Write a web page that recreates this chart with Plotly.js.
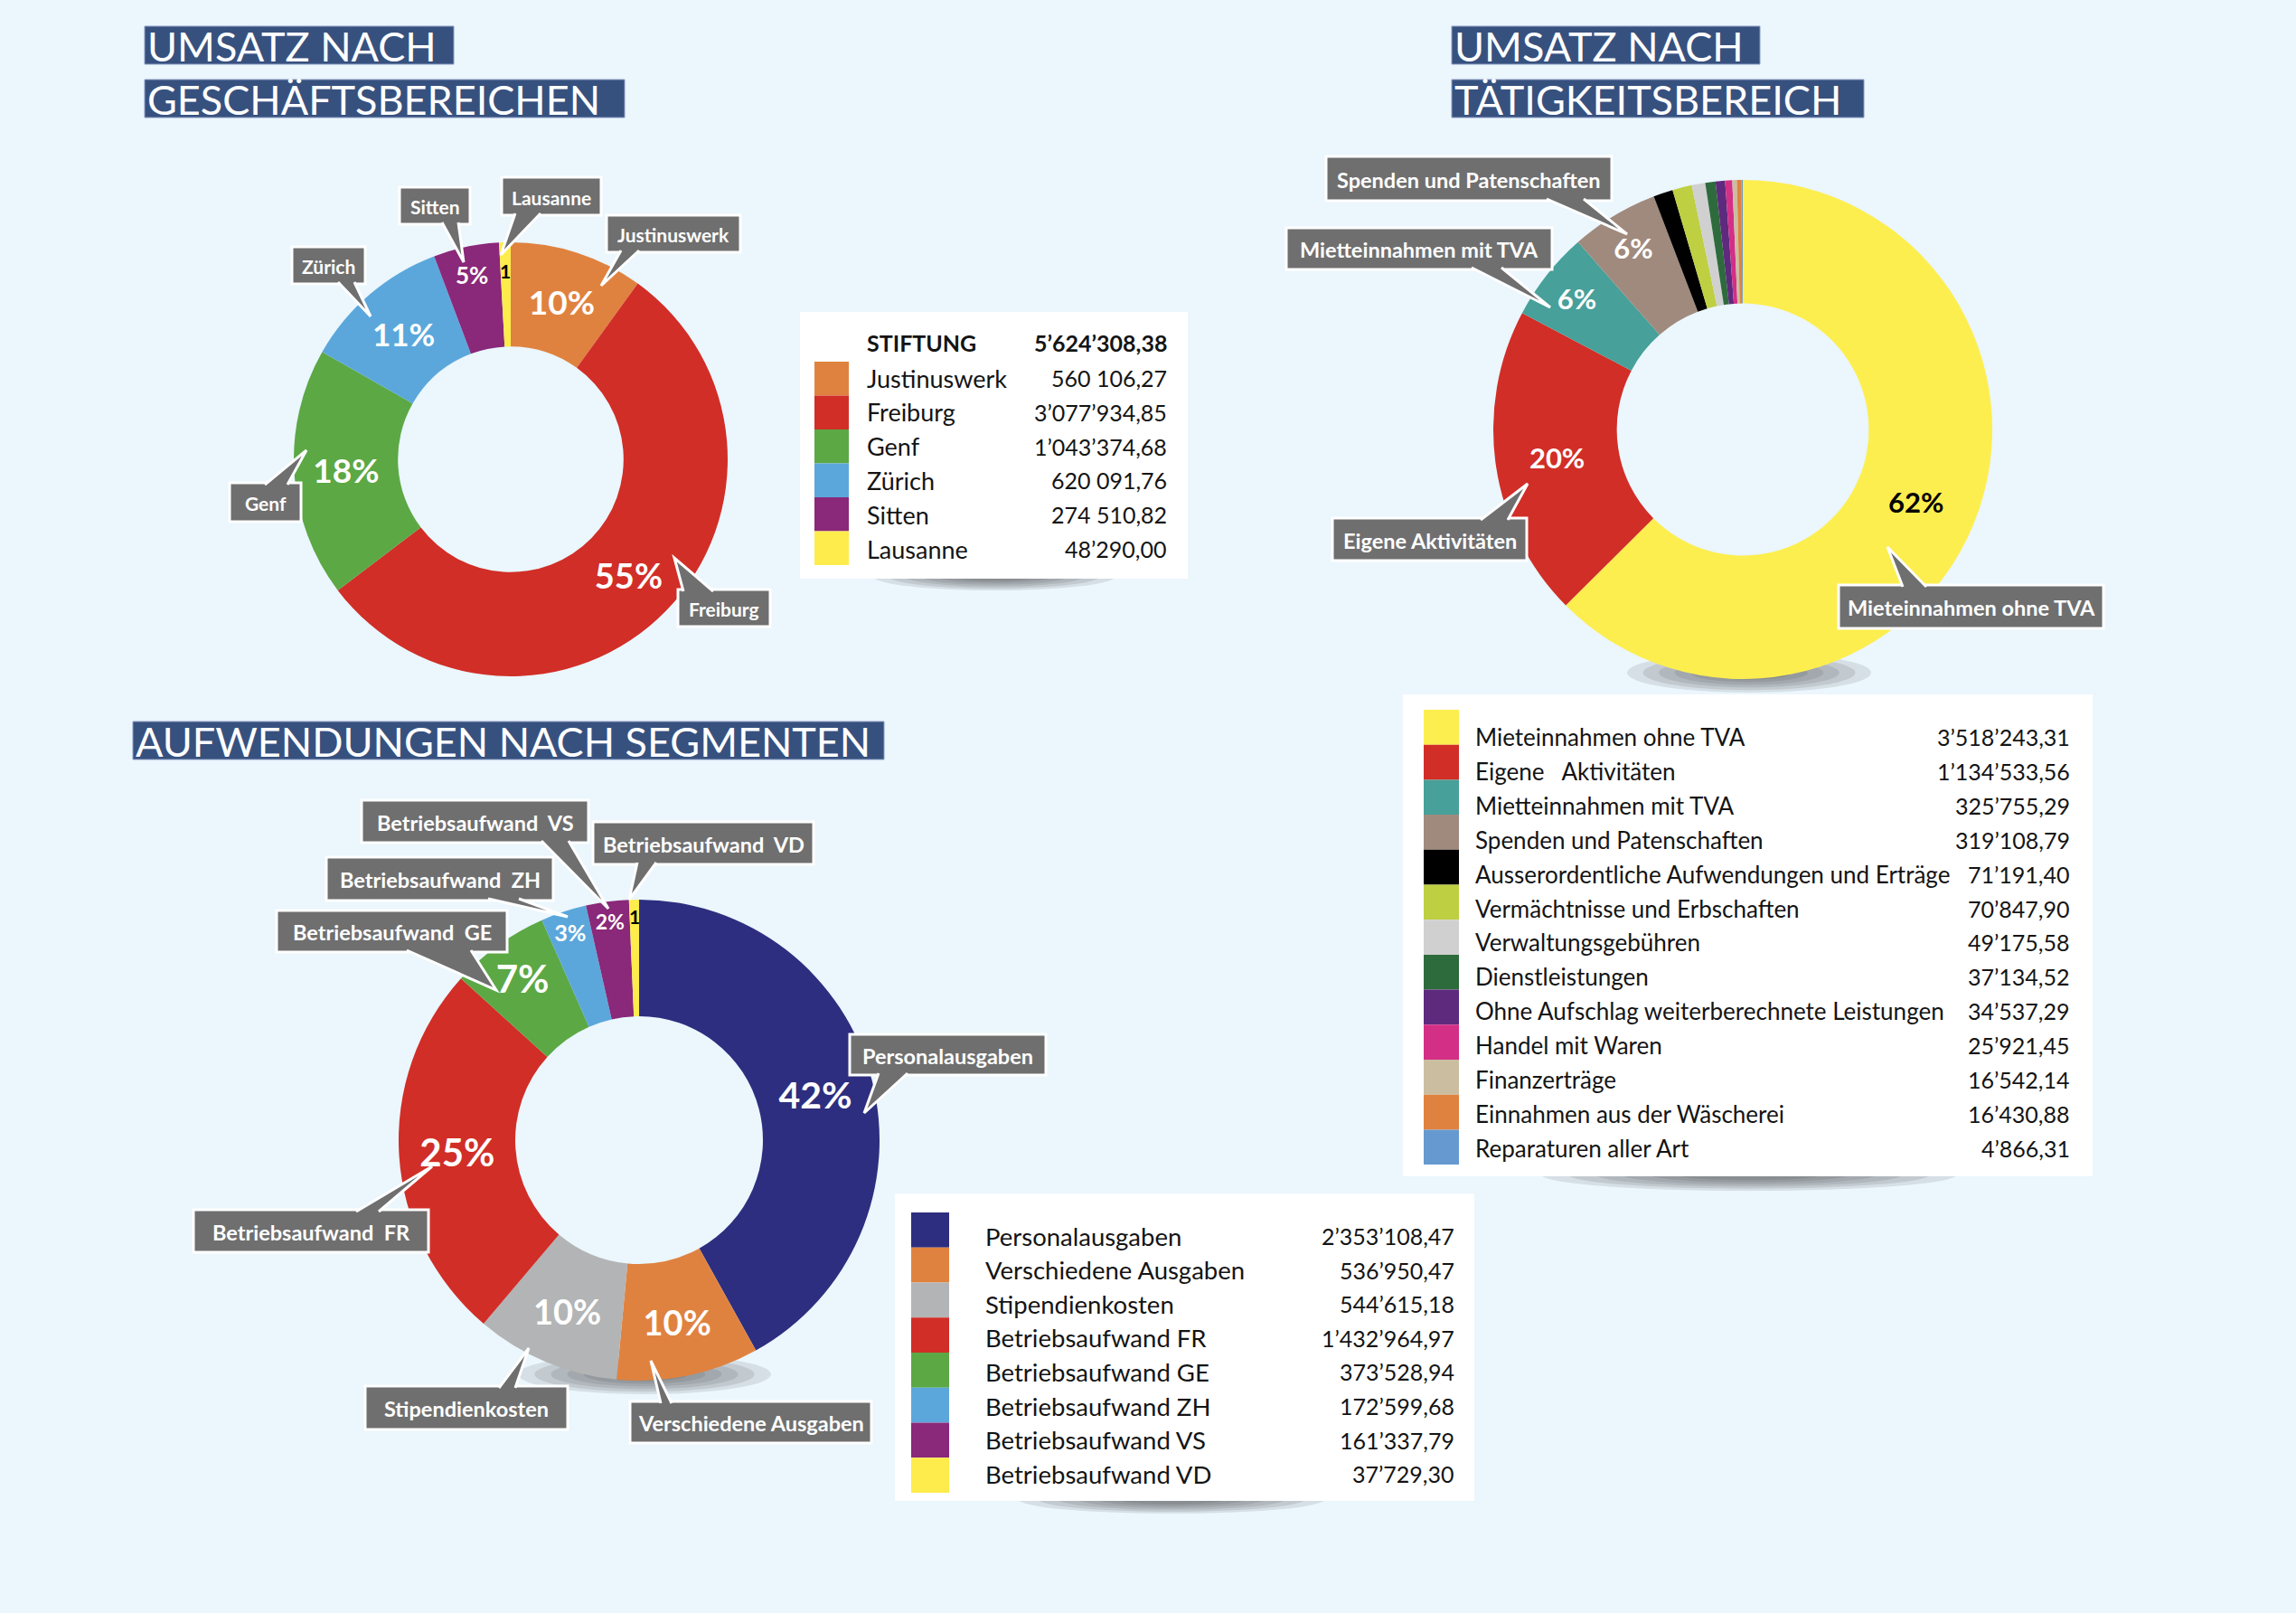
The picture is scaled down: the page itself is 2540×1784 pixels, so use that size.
<!DOCTYPE html>
<html>
<head>
<meta charset="utf-8">
<script src="https://cdn.plot.ly/plotly-3.0.1.min.js"></script>
<style>html,body{margin:0;padding:0;background:#EBF6FD;}</style>
</head>
<body>
<div id="chart" style="width:2540px;height:1784px;"></div>
<script>
// ---------------- DATA ----------------
// Umsatz nach Geschäftsbereichen
const gbLabels = ['Justinuswerk', 'Freiburg', 'Genf', 'Zürich', 'Sitten', 'Lausanne'];
const gbValues = [560106.27, 3077934.85, 1043374.68, 620091.76, 274510.82, 48290.00];
const gbValueText = ['560 106,27', '3’077’934,85', '1’043’374,68', '620 091,76', '274 510,82', '48’290,00'];
const gbPctText = ['10%', '55%', '18%', '11%', '5%', '1'];
const gbTotalLabel = 'STIFTUNG';
const gbTotalText = '5’624’308,38';

// Umsatz nach Tätigkeitsbereich
const tbLabels = ['Mieteinnahmen ohne TVA', 'Eigene\u00a0\u00a0 Aktivitäten', 'Mietteinnahmen mit TVA', 'Spenden und Patenschaften',
  'Ausserordentliche Aufwendungen und Erträge', 'Vermächtnisse und Erbschaften', 'Verwaltungsgebühren', 'Dienstleistungen',
  'Ohne Aufschlag weiterberechnete Leistungen', 'Handel mit Waren', 'Finanzerträge', 'Einnahmen aus der Wäscherei', 'Reparaturen aller Art'];
const tbValues = [3518243.31, 1134533.56, 325755.29, 319108.79, 71191.40, 70847.90, 49175.58, 37134.52, 34537.29, 25921.45, 16542.14, 16430.88, 4866.31];
const tbValueText = ['3’518’243,31', '1’134’533,56', '325’755,29', '319’108,79', '71’191,40', '70’847,90', '49’175,58',
  '37’134,52', '34’537,29', '25’921,45', '16’542,14', '16’430,88', '4’866,31'];
const tbPctText = ['62%', '20%', '6%', '6%', '', '', '', '', '', '', '', '', ''];

// Aufwendungen nach Segmenten
const sgLabels = ['Personalausgaben', 'Verschiedene Ausgaben', 'Stipendienkosten', 'Betriebsaufwand FR', 'Betriebsaufwand GE',
  'Betriebsaufwand ZH', 'Betriebsaufwand VS', 'Betriebsaufwand VD'];
const sgValues = [2353108.47, 536950.47, 544615.18, 1432964.97, 373528.94, 172599.68, 161337.79, 37729.30];
const sgValueText = ['2’353’108,47', '536’950,47', '544’615,18', '1’432’964,97', '373’528,94', '172’599,68', '161’337,79', '37’729,30'];
const sgPctText = ['42%', '10%', '10%', '25%', '7%', '3%', '2%', '1'];

// Titles
const titleGB = ['UMSATZ NACH', 'GESCHÄFTSBEREICHEN'];
const titleTB = ['UMSATZ NACH', 'TÄTIGKEITSBEREICH'];
const titleSG = ['AUFWENDUNGEN NACH SEGMENTEN'];

// ---------------- STYLE ----------------
const W = 2540, H = 1784;
const BG = '#EBF6FD';
const FONT = 'Lato, "Open Sans", sans-serif';
const TITLE_BOX = '#37517F';
const CALLOUT = '#6F6F6F';
const gbColors = ['#E0823F', '#D12E27', '#5CA845', '#5BA7DB', '#8A2879', '#FDEC4C'];
const tbColors = ['#FDEE4F', '#D12E27', '#47A099', '#A08A7D', '#000000', '#BFCF42', '#D0D0D0', '#2E6B3C', '#5E2A7E', '#D42F86', '#CBBEA0', '#E0823F', '#6699CF'];
const sgColors = ['#2D2E7F', '#E0823F', '#B3B4B5', '#D12E27', '#5CA845', '#5BA7DB', '#8A2879', '#FDEC4C'];

const shapes = [];
const annotations = [];

// slices thinner than this share get their label as an annotation (Plotly would shrink it away)
const TINY = 0.015;

function donut(labels, values, text, colors, txtColors, txtSizes, cx, cy, r, hole, tinyR) {
  const total = values.reduce(function (a, b) { return a + b; }, 0);
  let cum = 0;
  const pieText = text.map(function (t, i) {
    const share = values[i] / total;
    const mid = (cum + values[i] / 2) / total;
    cum += values[i];
    if (share < TINY && t !== '') {
      const th = mid * 2 * Math.PI;
      annotations.push({xref: 'x', yref: 'y', x: cx + tinyR * r * Math.sin(th), y: cy - tinyR * r * Math.cos(th),
        text: t, showarrow: false, xanchor: 'center', yanchor: 'middle',
        font: {family: FONT, size: 21, color: txtColors[i], weight: 'bold'}});
      return '';
    }
    return t;
  });
  return {
    type: 'pie', labels: labels, values: values, text: pieText, textinfo: 'text',
    textposition: 'inside', insidetextorientation: 'horizontal',
    sort: false, direction: 'clockwise', rotation: 0, hole: hole,
    marker: {colors: colors, line: {width: 0}},
    insidetextfont: {family: FONT, color: txtColors, size: txtSizes, weight: 'bold'},
    domain: {x: [(cx - r) / W, (cx + r) / W], y: [1 - (cy + r) / H, 1 - (cy - r) / H]},
    hoverinfo: 'none', showlegend: false
  };
}

function shadow(cx, cy, rx, ry, op) {
  for (let k = 0; k < 6; k++) {
    const f = 1 - k * 0.13;
    shapes.push({type: 'circle', xref: 'x', yref: 'y', layer: 'below',
      x0: cx - rx * f, x1: cx + rx * f, y0: cy - ry * f, y1: cy + ry * f,
      fillcolor: '#3c3c3c', opacity: op, line: {width: 0}});
  }
}

function titleBox(text, x0, y0, x1, y1, size) {
  shapes.push({type: 'rect', xref: 'x', yref: 'y', layer: 'above', x0: x0, x1: x1, y0: y0, y1: y1,
    fillcolor: TITLE_BOX, line: {color: '#8C9DC2', width: 1}});
  annotations.push({xref: 'x', yref: 'y', x: x0 + 1, y: (y0 + y1) / 2 + 1, text: text, showarrow: false,
    xanchor: 'left', yanchor: 'middle', font: {family: FONT, size: size, color: '#FFFFFF'}});
}

function callout(c, size) {
  const [x0, y0, x1, y1] = c.box;
  shapes.push({type: 'rect', xref: 'x', yref: 'y', layer: 'above', x0: x0, x1: x1, y0: y0, y1: y1,
    fillcolor: CALLOUT, line: {color: '#FFFFFF', width: 3}});
  const by = c.side === 'bottom' ? y1 - 2 : y0 + 2;
  shapes.push({type: 'path', xref: 'x', yref: 'y', layer: 'above',
    path: 'M' + c.base[0] + ',' + by + ' L' + c.tip[0] + ',' + c.tip[1] + ' L' + c.base[1] + ',' + by,
    fillcolor: CALLOUT, line: {color: '#FFFFFF', width: 3}});
  annotations.push({xref: 'x', yref: 'y', x: (x0 + x1) / 2, y: (y0 + y1) / 2 + 1, text: c.text, showarrow: false,
    xanchor: 'center', yanchor: 'middle', font: {family: FONT, size: size, color: '#FFFFFF', weight: 'bold'}});
}

function legendTable(opt, labels, valueText, colors) {
  const [bx0, by0, bx1, by1] = opt.box;
  shapes.push({type: 'rect', xref: 'x', yref: 'y', layer: 'above', x0: bx0, x1: bx1, y0: by0, y1: by1,
    fillcolor: '#FFFFFF', line: {width: 0}});
  labels.forEach(function (lab, i) {
    shapes.push({type: 'rect', xref: 'x', yref: 'y', layer: 'above',
      x0: opt.sqX[0], x1: opt.sqX[1], y0: opt.sqTop + i * opt.sqH, y1: opt.sqTop + (i + 1) * opt.sqH,
      fillcolor: colors[i], line: {width: 0}});
    const y = opt.rowY + i * opt.rowH;
    annotations.push({xref: 'x', yref: 'y', x: opt.labelX, y: y, text: lab, showarrow: false,
      xanchor: 'left', yanchor: 'middle', font: {family: FONT, size: opt.labelSize, color: '#141414'}});
    annotations.push({xref: 'x', yref: 'y', x: opt.valueX, y: y, text: valueText[i], showarrow: false,
      xanchor: 'right', yanchor: 'middle', font: {family: FONT, size: 25, color: '#141414'}});
  });
}

// ---------------- SHADOWS ----------------
shadow(1100, 637, 135, 16, 0.12);
shadow(1935, 1299, 230, 18, 0.12);
shadow(1296, 1658, 170, 16, 0.12);
shadow(1935, 744, 135, 22, 0.12);
shadow(713, 1520, 140, 22, 0.12);

// ---------------- TITLES ----------------
titleBox(titleGB[0], 160, 29, 502, 71, 45);
titleBox(titleGB[1], 160, 88, 691, 130, 45);
titleBox(titleTB[0], 1606, 29, 1947, 71, 45);
titleBox(titleTB[1], 1606, 88, 2062, 130, 45);
titleBox(titleSG[0], 147, 798, 978, 840, 45);

// ---------------- TRACES ----------------
const traces = [
  {type: 'scatter', x: [0], y: [0], mode: 'markers', marker: {opacity: 0}, hoverinfo: 'skip', showlegend: false},
  donut(gbLabels, gbValues, gbPctText, gbColors,
    ['#FFFFFF', '#FFFFFF', '#FFFFFF', '#FFFFFF', '#FFFFFF', '#000000'], [37, 38, 37, 35, 26, 19],
    565, 508, 240, 0.52, 0.87),
  donut(tbLabels, tbValues, tbPctText, tbColors,
    tbLabels.map(function (d, i) { return i === 0 ? '#000000' : '#FFFFFF'; }),
    tbLabels.map(function (d, i) { return i < 4 ? 31 : 10; }),
    1928, 475, 276, 0.505, 0.9),
  donut(sgLabels, sgValues, sgPctText, sgColors,
    ['#FFFFFF', '#FFFFFF', '#FFFFFF', '#FFFFFF', '#FFFFFF', '#FFFFFF', '#FFFFFF', '#000000'], [41, 38, 38, 42, 42, 28, 23, 19],
    707, 1261, 266, 0.515, 0.93)
];

// ---------------- LEGEND TABLES ----------------
legendTable({box: [885, 345, 1314, 640], sqX: [901, 939], sqTop: 400, sqH: 37.5, rowY: 418, rowH: 37.8, labelX: 957, valueX: 1293, labelSize: 27},
  gbLabels, gbValueText, gbColors);
annotations.push({xref: 'x', yref: 'y', x: 957, y: 379, text: '<b>' + gbTotalLabel + '</b>', showarrow: false,
  xanchor: 'left', yanchor: 'middle', font: {family: FONT, size: 25, color: '#141414'}});
annotations.push({xref: 'x', yref: 'y', x: 1293, y: 379, text: '<b>' + gbTotalText + '</b>', showarrow: false,
  xanchor: 'right', yanchor: 'middle', font: {family: FONT, size: 25, color: '#141414'}});

legendTable({box: [1552, 768, 2315, 1301], sqX: [1575, 1614], sqTop: 785, sqH: 38.7, rowY: 815, rowH: 37.9, labelX: 1630, valueX: 2292, labelSize: 26},
  tbLabels, tbValueText, tbColors);

legendTable({box: [990, 1320, 1631, 1660], sqX: [1008, 1050], sqTop: 1341, sqH: 38.75, rowY: 1367, rowH: 37.6, labelX: 1088, valueX: 1611, labelSize: 27.5},
  sgLabels, sgValueText, sgColors);

// ---------------- CALLOUTS ----------------
const gbCallouts = [
  {text: 'Lausanne', box: [555, 196, 665, 238], side: 'bottom', base: [570, 598], tip: [554, 282]},
  {text: 'Sitten', box: [442, 207, 520, 248], side: 'bottom', base: [489, 507], tip: [513, 290]},
  {text: 'Zürich', box: [323, 273, 404, 314], side: 'bottom', base: [374, 392], tip: [410, 350]},
  {text: 'Justinuswerk', box: [671, 238, 819, 279], side: 'bottom', base: [687, 707], tip: [665, 316]},
  {text: 'Genf', box: [254, 534, 333, 577], side: 'top', base: [293, 318], tip: [339, 498]},
  {text: 'Freiburg', box: [750, 652, 852, 693], side: 'top', base: [756, 789], tip: [746, 617]}
];
const tbCallouts = [
  {text: 'Spenden und Patenschaften', box: [1467, 173, 1783, 222], side: 'bottom', base: [1711, 1752], tip: [1800, 259]},
  {text: 'Mietteinnahmen mit TVA', box: [1423, 252, 1717, 298], side: 'bottom', base: [1628, 1661], tip: [1715, 340]},
  {text: 'Eigene Aktivitäten', box: [1474, 573, 1689, 620], side: 'top', base: [1638, 1668], tip: [1690, 535]},
  {text: 'Mieteinnahmen ohne TVA', box: [2034, 647, 2327, 695], side: 'top', base: [2105, 2131], tip: [2088, 605]}
];
const sgCallouts = [
  {text: 'Betriebsaufwand\u00a0 VS', box: [400, 885, 651, 932], side: 'bottom', base: [599, 629], tip: [673, 1005]},
  {text: 'Betriebsaufwand\u00a0 VD', box: [656, 909, 900, 956], side: 'bottom', base: [705, 726], tip: [696, 995]},
  {text: 'Betriebsaufwand\u00a0 ZH', box: [361, 948, 612, 996], side: 'bottom', base: [540, 574], tip: [628, 1014]},
  {text: 'Betriebsaufwand\u00a0 GE', box: [306, 1007, 561, 1053], side: 'bottom', base: [450, 521], tip: [549, 1095]},
  {text: 'Betriebsaufwand\u00a0 FR', box: [214, 1338, 474, 1385], side: 'top', base: [394, 419], tip: [478, 1290]},
  {text: 'Stipendienkosten', box: [404, 1533, 628, 1581], side: 'top', base: [552, 570], tip: [585, 1491]},
  {text: 'Verschiedene Ausgaben', box: [697, 1550, 964, 1596], side: 'top', base: [731, 743], tip: [720, 1505]},
  {text: 'Personalausgaben', box: [940, 1144, 1157, 1189], side: 'bottom', base: [972, 1004], tip: [956, 1231]}
];
gbCallouts.forEach(function (c) { callout(c, 21); });
tbCallouts.forEach(function (c) { callout(c, 23.5); });
sgCallouts.forEach(function (c) { callout(c, 23.5); });

// ---------------- LAYOUT ----------------
const layout = {
  width: W, height: H, autosize: false,
  margin: {l: 0, r: 0, t: 0, b: 0, pad: 0},
  paper_bgcolor: BG, plot_bgcolor: BG,
  showlegend: false,
  xaxis: {range: [0, W], visible: false, fixedrange: true, domain: [0, 1]},
  yaxis: {range: [H, 0], visible: false, fixedrange: true, domain: [0, 1]},
  shapes: shapes,
  annotations: annotations,
  font: {family: FONT}
};

Plotly.newPlot('chart', traces, layout, {displayModeBar: false, staticPlot: true});
</script>
</body>
</html>
